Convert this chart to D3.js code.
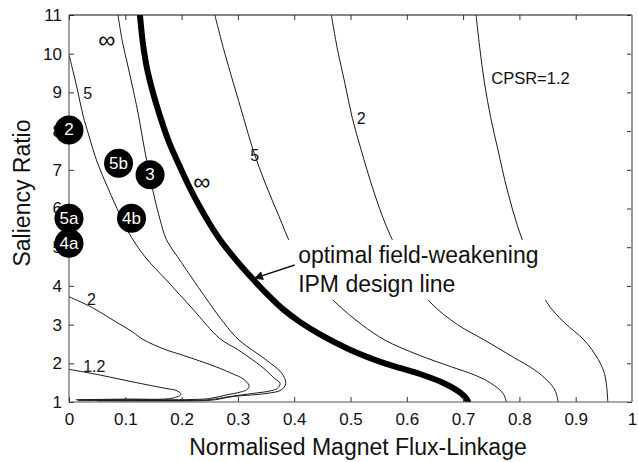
<!DOCTYPE html>
<html>
<head>
<meta charset="utf-8">
<script src="https://cdn.jsdelivr.net/npm/d3@7"></script>
<style>
  body { margin: 0; background: #fff; }
  text { font-family: "Liberation Sans", Arial, sans-serif; fill: #111; }
</style>
</head>
<body>
<script>
var svgWidth = 638;
var svgHeight = 462;

var margin = { top: 15, right: 6, bottom: 60, left: 69 };
var width = 563;
var height = 387;

// x / y ticks
var xTicks = [0, 0.1, 0.2, 0.3, 0.4, 0.5, 0.6, 0.7, 0.8, 0.9, 1];
var yTicks = [1, 2, 3, 4, 5, 6, 7, 8, 9, 10, 11];

// optimal field-weakening design line (thick)
var optimalLine = [[0.126,11],[0.131,10.3],[0.138,9.66],[0.149,9.0],[0.162,8.37],[0.178,7.7],[0.197,7.08],[0.214,6.55],
  [0.232,6.05],[0.25,5.6],[0.268,5.2],[0.292,4.75],[0.32,4.28],[0.351,3.8],[0.38,3.4],[0.41,3.07],[0.442,2.78],
  [0.501,2.34],[0.561,2.0],[0.62,1.74],[0.667,1.48],[0.695,1.24],[0.706,1.08],[0.709,1.0]];

// CPSR contours, left of the design line
var left12 = [[0,1.845],[0.054,1.70],[0.113,1.52],[0.172,1.35],[0.19,1.30],[0.199,1.2],[0.184,1.10],[0.1,1.075],[0.012,1.06]];
var left2 = [[0,3.72],[0.04,3.45],[0.08,3.1],[0.114,2.8],[0.131,2.62],[0.17,2.36],[0.202,2.21],[0.261,1.91],[0.292,1.72],
  [0.309,1.6],[0.32,1.42],[0.316,1.32],[0.305,1.26],[0.279,1.18],[0.25,1.09],[0.22,1.065],[0.1,1.06],[0.02,1.055]];
var left5 = [[0,9.97],[0.008,9.5],[0.016,9.0],[0.025,8.4],[0.035,7.9],[0.05,7.2],[0.07,6.5],[0.09,5.85],[0.105,5.4],
  [0.135,4.75],[0.173,4.15],[0.22,3.4],[0.267,2.65],[0.3,2.35],[0.326,2.09],[0.35,1.82],[0.364,1.62],[0.375,1.48],
  [0.37,1.35],[0.355,1.28],[0.326,1.22],[0.29,1.15],[0.26,1.08],[0.24,1.05],[0.1,1.04],[0.015,1.035]];
var leftInf = [[0.087,11],[0.095,10.3],[0.105,9.66],[0.115,9.0],[0.124,8.37],[0.132,7.7],[0.14,7.1],[0.15,6.4],[0.162,5.7],
  [0.173,5.2],[0.2,4.6],[0.24,3.75],[0.275,3.05],[0.302,2.6],[0.35,2.09],[0.378,1.74],[0.385,1.48],[0.377,1.31],
  [0.35,1.22],[0.291,1.14],[0.26,1.06],[0.24,1.035],[0.05,1.03]];

// CPSR contours, right of the design line
var right5 = [[0.259,11],[0.275,10.1],[0.292,9.24],[0.31,8.35],[0.327,7.51],[0.35,6.6],[0.373,5.8],[0.395,5.05],[0.43,4.25],
  [0.472,3.59],[0.52,3.0],[0.561,2.6],[0.62,2.22],[0.679,1.91],[0.72,1.7],[0.75,1.48],[0.771,1.22],[0.777,1.0]];
var right2 = [[0.466,11],[0.477,10.1],[0.49,9.24],[0.503,8.35],[0.519,7.51],[0.54,6.5],[0.564,5.53],[0.595,4.6],[0.641,3.59],
  [0.69,3.0],[0.738,2.6],[0.79,2.15],[0.827,1.83],[0.85,1.55],[0.863,1.31],[0.869,1.0]];
var right12 = [[0.723,11],[0.73,10.1],[0.738,9.24],[0.749,8.35],[0.762,7.51],[0.778,6.5],[0.797,5.53],[0.82,4.6],[0.848,3.59],
  [0.88,3.05],[0.915,2.6],[0.94,2.1],[0.951,1.74],[0.955,1.4],[0.957,1.0]];

var contours = [left12, left2, left5, leftInf, right5, right2, right12];

// contour labels
var contourLabels = [
  { x: 0.033, y: 8.97, t: "5" },
  { x: 0.33, y: 7.38, t: "5" },
  { x: 0.519, y: 8.33, t: "2" },
  { x: 0.04, y: 3.64, t: "2" },
  { x: 0.045, y: 1.91, t: "1.2" }
];
var infLabels = [{ x: 0.067, y: 10.35 }, { x: 0.236, y: 6.69 }];

// design points
var designNames = ["2", "5b", "3", "5a", "4b", "4a"];
var designX = [0, 0.088, 0.144, 0, 0.111, 0];
var designY = [8.03, 7.17, 6.87, 5.75, 5.75, 5.1];

var svg = d3.select("body")
            .append("svg")
            .attr("width", svgWidth)
            .attr("height", svgHeight);

var chartGroup = svg.append("g")
                    .attr("transform", `translate(${margin.left}, ${margin.top})`);

var xScale = d3.scaleLinear().domain([0, 1]).range([0, width]);
var yScale = d3.scaleLinear().domain([1, 11]).range([height, 0]);

var defs = svg.append("defs");
defs.append("clipPath").attr("id", "plotclip")
    .append("rect").attr("width", width).attr("height", height);
defs.append("marker")
    .attr("id", "arrowhead")
    .attr("viewBox", "0 0 10 10")
    .attr("refX", 9).attr("refY", 5)
    .attr("markerWidth", 12).attr("markerHeight", 9)
    .attr("markerUnits", "userSpaceOnUse")
    .attr("orient", "auto")
    .append("path").attr("d", "M0,0 L10,5 L0,10 Z").attr("fill", "#111");

var line = d3.line()
             .x(d => xScale(d[0]))
             .y(d => yScale(d[1]))
             .curve(d3.curveCatmullRom.alpha(0.5));

var plot = chartGroup.append("g").attr("clip-path", "url(#plotclip)");

plot.selectAll(".contour")
    .data(contours)
    .enter()
    .append("path")
    .attr("class", "contour")
    .attr("d", line)
    .attr("fill", "none")
    .attr("stroke", "#1a1a1a")
    .attr("stroke-width", 1);

plot.append("path")
    .attr("d", line(optimalLine))
    .attr("fill", "none")
    .attr("stroke", "#000")
    .attr("stroke-width", 6)
    .attr("stroke-linecap", "round");

// white box behind the annotation
plot.append("rect")
    .attr("x", xScale(0.384))
    .attr("y", yScale(5.19))
    .attr("width", xScale(0.851) - xScale(0.384))
    .attr("height", yScale(3.64) - yScale(5.19))
    .attr("fill", "#fff");

// axes (ticks point inward)
var bottomAxis = d3.axisBottom(xScale).tickValues(xTicks).tickFormat(d3.format("")).tickSizeInner(-5).tickSizeOuter(0).tickPadding(11);
var leftAxis = d3.axisLeft(yScale).tickValues(yTicks).tickSizeInner(-5).tickSizeOuter(0).tickPadding(7);
var topAxis = d3.axisTop(xScale).tickValues(xTicks).tickSizeInner(-5).tickSizeOuter(0).tickFormat("");
var rightAxis = d3.axisRight(yScale).tickValues(yTicks).tickSizeInner(-5).tickSizeOuter(0).tickFormat("");

function styleAxis(g) {
  g.select(".domain").remove();
  g.selectAll("line").attr("stroke", "#333");
  g.selectAll("text").attr("font-size", 17).attr("fill", "#111")
   .style("font-family", '"Liberation Sans", Arial, sans-serif');
}

chartGroup.append("g").attr("transform", `translate(0, ${height})`).call(bottomAxis).call(styleAxis);
chartGroup.append("g").call(leftAxis).call(styleAxis);
chartGroup.append("g").call(topAxis).call(styleAxis);
chartGroup.append("g").attr("transform", `translate(${width}, 0)`).call(rightAxis).call(styleAxis);

// frame
chartGroup.append("line").attr("x1", 0).attr("x2", width).attr("y1", 0).attr("y2", 0).attr("stroke", "#111");
chartGroup.append("line").attr("x1", 0).attr("x2", width).attr("y1", height).attr("y2", height).attr("stroke", "#555");
chartGroup.append("line").attr("x1", 0).attr("x2", 0).attr("y1", 0).attr("y2", height).attr("stroke", "#444");
chartGroup.append("line").attr("x1", width).attr("x2", width).attr("y1", 0).attr("y2", height).attr("stroke", "#999").attr("stroke-width", 2);

// contour labels
chartGroup.selectAll(".clabel")
          .data(contourLabels)
          .enter()
          .append("text")
          .attr("class", "clabel")
          .attr("x", d => xScale(d.x))
          .attr("y", d => yScale(d.y))
          .attr("text-anchor", "middle")
          .attr("dominant-baseline", "central")
          .attr("font-size", 16)
          .text(d => d.t);

chartGroup.selectAll(".inf")
          .data(infLabels)
          .enter()
          .append("text")
          .attr("class", "inf")
          .attr("x", d => xScale(d.x))
          .attr("y", d => yScale(d.y))
          .attr("text-anchor", "middle")
          .attr("dominant-baseline", "central")
          .attr("font-size", 24)
          .style("font-family", '"DejaVu Sans", sans-serif')
          .style("font-weight", 200)
          .text("\u221E");

chartGroup.append("text")
          .attr("x", xScale(0.75))
          .attr("y", yScale(9.37))
          .attr("dominant-baseline", "central")
          .attr("font-size", 16.5)
          .text("CPSR=1.2");

// annotation
chartGroup.append("line")
          .attr("x1", xScale(0.401)).attr("y1", yScale(4.54))
          .attr("x2", xScale(0.330)).attr("y2", yScale(4.2))
          .attr("stroke", "#111").attr("stroke-width", 1.5)
          .attr("marker-end", "url(#arrowhead)");

chartGroup.append("text")
          .attr("x", xScale(0.407)).attr("y", yScale(4.59))
          .attr("font-size", 23)
          .text("optimal field-weakening");
chartGroup.append("text")
          .attr("x", xScale(0.407)).attr("y", yScale(3.84))
          .attr("font-size", 23)
          .text("IPM design line");

// design points
var designData = designNames.map((n, i) => ({ name: n, x: designX[i], y: designY[i] }));
var pts = chartGroup.selectAll(".design")
                    .data(designData)
                    .enter()
                    .append("g")
                    .attr("class", "design")
                    .attr("transform", d => `translate(${xScale(d.x)}, ${yScale(d.y)})`);
pts.append("circle").attr("r", 14.5).attr("fill", "#000");
pts.append("text")
   .attr("text-anchor", "middle")
   .attr("dominant-baseline", "central")
   .attr("font-size", 17)
   .style("fill", "#fff")
   .text(d => d.name);

// axis titles
svg.append("text")
   .attr("x", 358)
   .attr("y", 455)
   .attr("text-anchor", "middle")
   .attr("font-size", 23)
   .text("Normalised Magnet Flux-Linkage");

svg.append("text")
   .attr("transform", "translate(22, 193) rotate(-90)")
   .attr("text-anchor", "middle")
   .attr("dominant-baseline", "central")
   .attr("font-size", 23)
   .text("Saliency Ratio");
</script>
</body>
</html>
